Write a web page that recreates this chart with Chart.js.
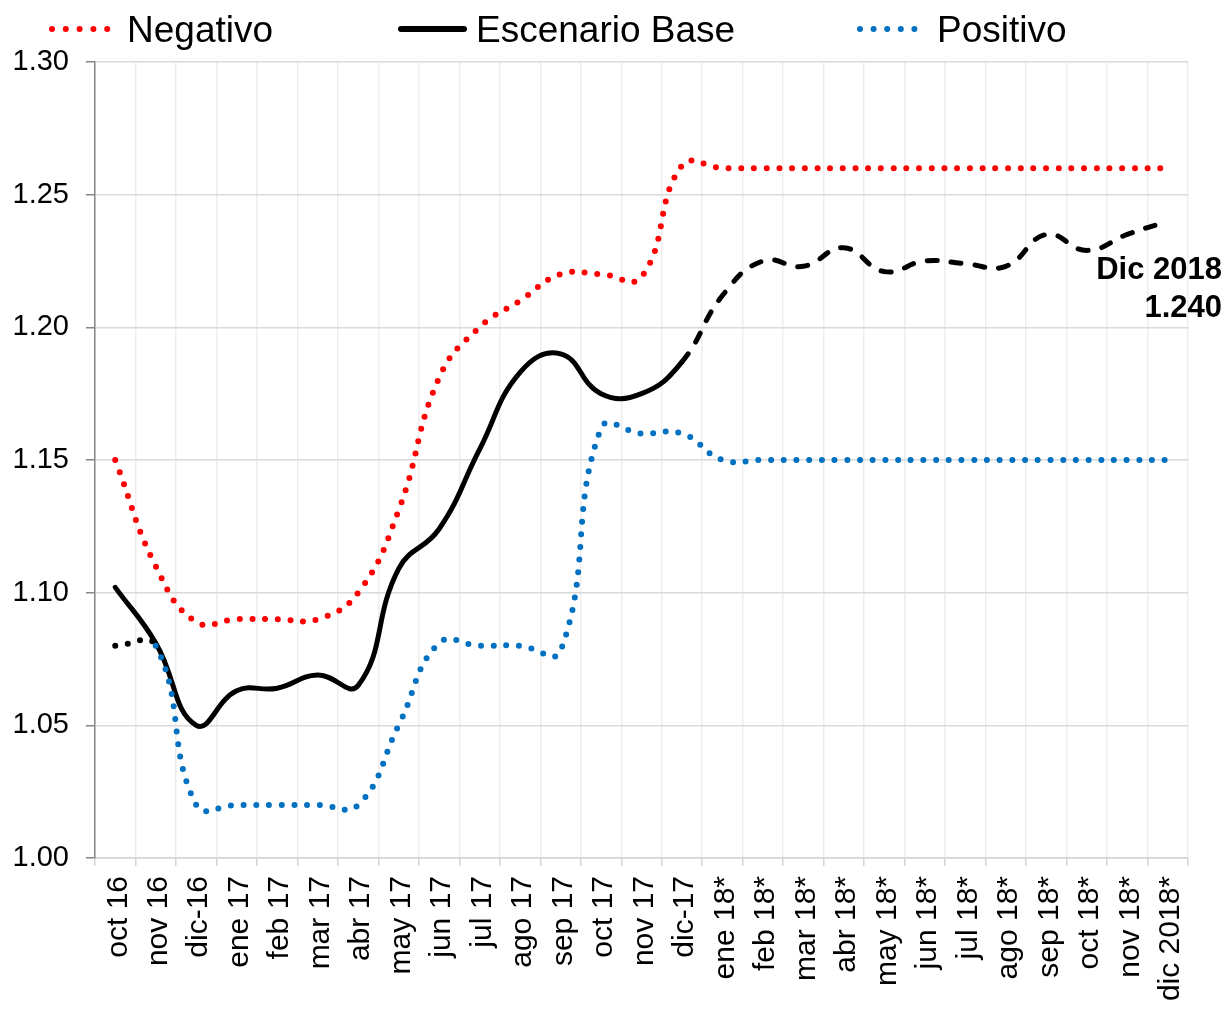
<!DOCTYPE html>
<html>
<head>
<meta charset="utf-8">
<script src="https://cdn.jsdelivr.net/npm/chart.js@4.4.1/dist/chart.umd.min.js"></script>
<style>
html,body{margin:0;padding:0;background:#ffffff;overflow:hidden}
canvas{display:block}
</style>
</head>
<body>
<canvas id="c" width="1225" height="1010"></canvas>
<script>
// ---- data ----
const categories = ['oct 16','nov 16','dic-16','ene 17','feb 17','mar 17','abr 17','may 17','jun 17','jul 17','ago 17','sep 17','oct 17','nov 17','dic-17','ene 18*','feb 18*','mar 18*','abr 18*','may 18*','jun 18*','jul 18*','ago 18*','sep 18*','oct 18*','nov 18*','dic 2018*'];
const negativo = [1.150,1.110,1.089,1.090,1.090,1.090,1.100,1.131,1.181,1.200,1.210,1.220,1.220,1.219,1.261,1.260,1.260,1.260,1.260,1.260,1.260,1.260,1.260,1.260,1.260,1.260,1.260];
const escenarioBase = [1.102,1.081,1.050,1.063,1.064,1.069,1.065,1.109,1.124,1.154,1.183,1.190,1.175,1.175,1.187,1.212,1.225,1.223,1.230,1.221,1.225,1.224,1.223,1.235,1.229,1.235,1.240];
const positivo = [1.080,1.080,1.020,1.020,1.020,1.020,1.020,1.050,1.081,1.080,1.080,1.078,1.162,1.160,1.160,1.150,1.150,1.150,1.150,1.150,1.150,1.150,1.150,1.150,1.150,1.150,1.150];
const seriesNames = ['Negativo','Escenario Base','Positivo'];
const yTicks = [1.00,1.05,1.10,1.15,1.20,1.25,1.30];
const forecastStartIndex = 14;      // base line becomes dashed from dic-17
const annotationTitle = 'Dic 2018';

const FONT = "'Liberation Sans', Arial, sans-serif";
const RED = '#FF0000', BLUE = '#0070C0', BLACK = '#000000';
const DOT = [0, 12.7];
const DASH = [10, 14];
const TENSION = 0.45;

const legendPlugin = {
  id: 'customLegend',
  afterDraw(chart) {
    const ctx = chart.ctx;
    const items = [
      {ds: 0, x0: 52, x1: 121, tx: 127, dash: [0, 13.8]},
      {ds: 1, x0: 401, x1: 464, tx: 476, dash: []},
      {ds: 2, x0: 860, x1: 928, tx: 937, dash: [0, 13.6]}
    ];
    ctx.save();
    items.forEach(it => {
      const d = chart.data.datasets[it.ds];
      ctx.beginPath();
      ctx.strokeStyle = d.borderColor;
      ctx.lineWidth = 6;
      ctx.lineCap = 'round';
      ctx.setLineDash(it.dash);
      ctx.moveTo(it.x0, 29);
      ctx.lineTo(it.x1, 29);
      ctx.stroke();
      ctx.setLineDash([]);
      ctx.fillStyle = '#000';
      ctx.font = '37px ' + FONT;
      ctx.textAlign = 'left';
      ctx.textBaseline = 'alphabetic';
      ctx.fillText(d.label, it.tx, 42);
    });
    ctx.restore();
  }
};

const annotationPlugin = {
  id: 'endAnnotation',
  afterDatasetsDraw(chart) {
    const meta = chart.getDatasetMeta(1);
    const last = meta.data[meta.data.length - 1];
    const ctx = chart.ctx;
    ctx.save();
    ctx.fillStyle = '#000';
    ctx.font = 'bold 31px ' + FONT;
    ctx.textAlign = 'right';
    ctx.textBaseline = 'alphabetic';
    const xr = 1222;
    ctx.fillText(annotationTitle, xr, last.y + 58);
    ctx.fillText(escenarioBase[escenarioBase.length - 1].toFixed(3), xr, last.y + 96);
    ctx.restore();
  }
};

new Chart(document.getElementById('c'), {
  type: 'line',
  data: {
    labels: categories,
    datasets: [
      {
        label: seriesNames[0], data: negativo, borderColor: RED, borderWidth: 6,
        borderDash: DOT, borderCapStyle: 'round', pointRadius: 0, tension: TENSION, order: 2, fill: false
      },
      {
        label: seriesNames[1], data: escenarioBase, borderColor: BLACK, borderWidth: 5,
        borderCapStyle: 'round', borderJoinStyle: 'round', pointRadius: 0, tension: TENSION, order: 1, fill: false,
        segment: { borderDash: c => c.p0DataIndex >= forecastStartIndex ? DASH : [] }
      },
      {
        label: seriesNames[2], data: positivo, borderColor: BLUE, borderWidth: 6,
        borderDash: DOT, borderCapStyle: 'round', pointRadius: 0, tension: TENSION, order: 0, fill: false,
        segment: { borderColor: c => c.p0DataIndex === 0 ? BLACK : BLUE }
      }
    ]
  },
  options: {
    responsive: false,
    animation: false,
    events: [],
    layout: { padding: { top: 62, right: 37, bottom: 0, left: 0 } },
    plugins: { legend: { display: false }, tooltip: { enabled: false }, title: { display: false } },
    scales: {
      x: {
        type: 'category',
        offset: true,
        grid: { offset: true, color: '#ededed', lineWidth: 1.5, tickColor: '#d4d4d4', tickLength: 8, drawTicks: true },
        border: { display: true, color: '#d4d4d4', width: 1.5 },
        ticks: { color: '#000', font: { family: FONT, size: 30 }, minRotation: 90, maxRotation: 90, padding: 10, labelOffset: 3, autoSkip: false },
        afterFit(s) { s.height = 152; }
      },
      y: {
        min: 1.0, max: 1.3,
        afterBuildTicks(s) { s.ticks = yTicks.map(v => ({ value: v })); },
        grid: { color: '#d9d9d9', lineWidth: 1.5, tickColor: '#868686', tickLength: 9 },
        border: { display: true, color: '#868686', width: 1.5 },
        ticks: { color: '#000', font: { family: FONT, size: 29 }, padding: 17, callback: v => Number(v).toFixed(2) },
        afterFit(s) { s.width = 95; }
      }
    }
  },
  plugins: [legendPlugin, annotationPlugin]
});
</script>
</body>
</html>
